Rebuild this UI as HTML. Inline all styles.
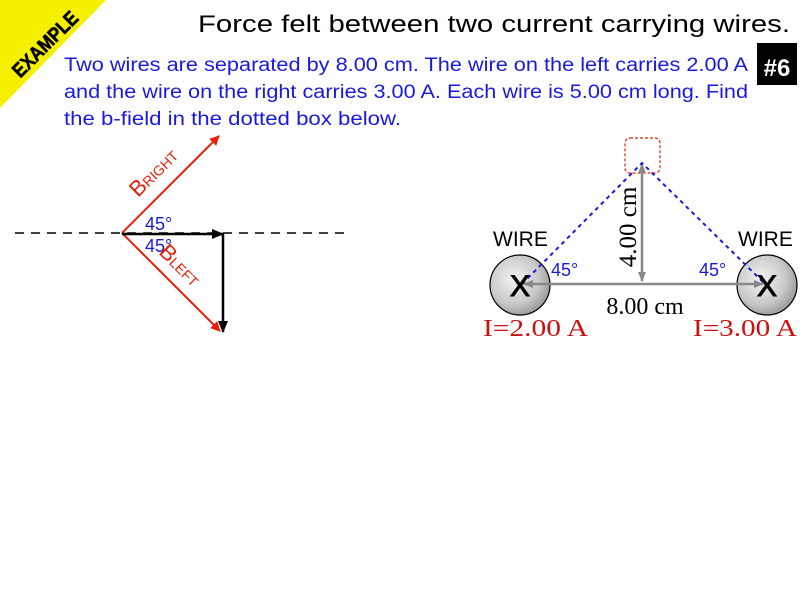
<!DOCTYPE html>
<html><head><meta charset="utf-8"><style>
html,body{margin:0;padding:0;background:#fff;}
svg{display:block;}
</style></head><body>
<svg width="800" height="600" viewBox="0 0 800 600" xmlns="http://www.w3.org/2000/svg">
<defs>
<radialGradient id="g" cx="0.4" cy="0.4" r="0.7">
<stop offset="0" stop-color="#f4f4f4"/><stop offset="0.6" stop-color="#c8c8c8"/><stop offset="1" stop-color="#8a8a8a"/>
</radialGradient>
<marker id="ar" markerWidth="10" markerHeight="10" refX="9" refY="5" orient="auto" markerUnits="userSpaceOnUse"><path d="M0,0 L10,5 L0,10 Z" fill="#e8200c"/></marker>
<marker id="ab" markerWidth="12" markerHeight="10" refX="11" refY="5" orient="auto" markerUnits="userSpaceOnUse"><path d="M0,0 L12,5 L0,10 Z" fill="#000"/></marker>
<marker id="ag" markerWidth="10" markerHeight="8" refX="9" refY="4" orient="auto-start-reverse" markerUnits="userSpaceOnUse"><path d="M0,0 L10,4 L0,8 Z" fill="#888"/></marker>
</defs>
<rect width="800" height="600" fill="#fff"/>
<polygon points="0,0 106,0 0,108" fill="#f5f000"/>
<text x="0" y="0" transform="translate(45,44) rotate(-45)" text-anchor="middle" font-family="Liberation Sans, sans-serif" font-weight="bold" font-size="20" textLength="84" lengthAdjust="spacingAndGlyphs" dy="7" stroke="#000" stroke-width="0.6">EXAMPLE</text>

<text x="198" y="32" font-family="Liberation Sans, sans-serif" font-size="24" textLength="592" lengthAdjust="spacingAndGlyphs">Force felt between two current carrying wires.</text>
<g font-family="Liberation Sans, sans-serif" font-size="19" fill="#1a1adc">
<text x="64" y="71" textLength="684" lengthAdjust="spacingAndGlyphs">Two wires are separated by 8.00 cm. The wire on the left carries 2.00 A</text>
<text x="64" y="98" textLength="684" lengthAdjust="spacingAndGlyphs">and the wire on the right carries 3.00 A. Each wire is 5.00 cm long. Find</text>
<text x="64" y="125" textLength="337" lengthAdjust="spacingAndGlyphs">the b-field in the dotted box below.</text>
</g>
<rect x="757" y="43" width="40" height="42" fill="#000"/>
<text x="777" y="76" text-anchor="middle" fill="#fff" font-family="Liberation Sans, sans-serif" font-weight="bold" font-size="24">#6</text>

<!-- left diagram -->
<line x1="15" y1="233" x2="345" y2="233" stroke="#000" stroke-width="1.5" stroke-dasharray="9,7"/>
<line x1="122" y1="233" x2="219" y2="136" stroke="#e8200c" stroke-width="2" marker-end="url(#ar)"/>
<line x1="122" y1="233" x2="220" y2="331" stroke="#e8200c" stroke-width="2" marker-end="url(#ar)"/>
<line x1="122" y1="234" x2="223" y2="234" stroke="#000" stroke-width="2.5" marker-end="url(#ab)"/>
<line x1="223" y1="233" x2="223" y2="332" stroke="#000" stroke-width="2.5" marker-end="url(#ab)"/>
<g font-family="Liberation Sans, sans-serif" font-size="18" fill="#1a1adc">
<text x="145" y="230">45°</text>
<text x="145" y="252">45°</text>
</g>
<g font-family="Liberation Sans, sans-serif" fill="#e8200c">
<text transform="translate(138,198) rotate(-45)" font-size="22">B<tspan font-size="14">RIGHT</tspan></text>
<text transform="translate(158,253) rotate(45)" font-size="22">B<tspan font-size="14">LEFT</tspan></text>
</g>

<!-- right diagram -->
<rect x="625" y="138" width="35" height="35" rx="5" fill="none" stroke="#e8200c" stroke-width="1.2" stroke-dasharray="3,2"/>
<circle cx="520" cy="285" r="30" fill="url(#g)" stroke="#000" stroke-width="1.2"/>
<circle cx="767" cy="285" r="30" fill="url(#g)" stroke="#000" stroke-width="1.2"/>
<line x1="524" y1="284" x2="763" y2="284" stroke="#888" stroke-width="2.5" marker-start="url(#ag)" marker-end="url(#ag)"/>
<line x1="642" y1="164" x2="642" y2="281" stroke="#888" stroke-width="2.5" marker-start="url(#ag)" marker-end="url(#ag)"/>
<polyline points="522,284 642,163 765,284" fill="none" stroke="#1a1adc" stroke-width="2" stroke-dasharray="4,4"/>
<g font-family="Liberation Sans, sans-serif" font-size="30" text-anchor="middle" stroke="#000" stroke-width="1">
<text x="520" y="296">X</text>
<text x="767" y="296">X</text>
</g>
<g font-family="Liberation Sans, sans-serif" font-size="21">
<text x="493" y="246">WIRE</text>
<text x="738" y="246">WIRE</text>
</g>
<g font-family="Liberation Sans, sans-serif" font-size="18" fill="#1a1adc">
<text x="551" y="276">45°</text>
<text x="699" y="276">45°</text>
</g>
<text transform="translate(636,227) rotate(-90)" text-anchor="middle" font-family="Liberation Serif, serif" font-size="25">4.00 cm</text>
<text x="645" y="314" text-anchor="middle" font-family="Liberation Serif, serif" font-size="24">8.00 cm</text>
<g font-family="Liberation Serif, serif" font-size="24" fill="#cc1010">
<text x="483" y="336" textLength="105" lengthAdjust="spacingAndGlyphs">I=2.00 A</text>
<text x="693" y="336" textLength="104" lengthAdjust="spacingAndGlyphs">I=3.00 A</text>
</g>
</svg>
</body></html>
